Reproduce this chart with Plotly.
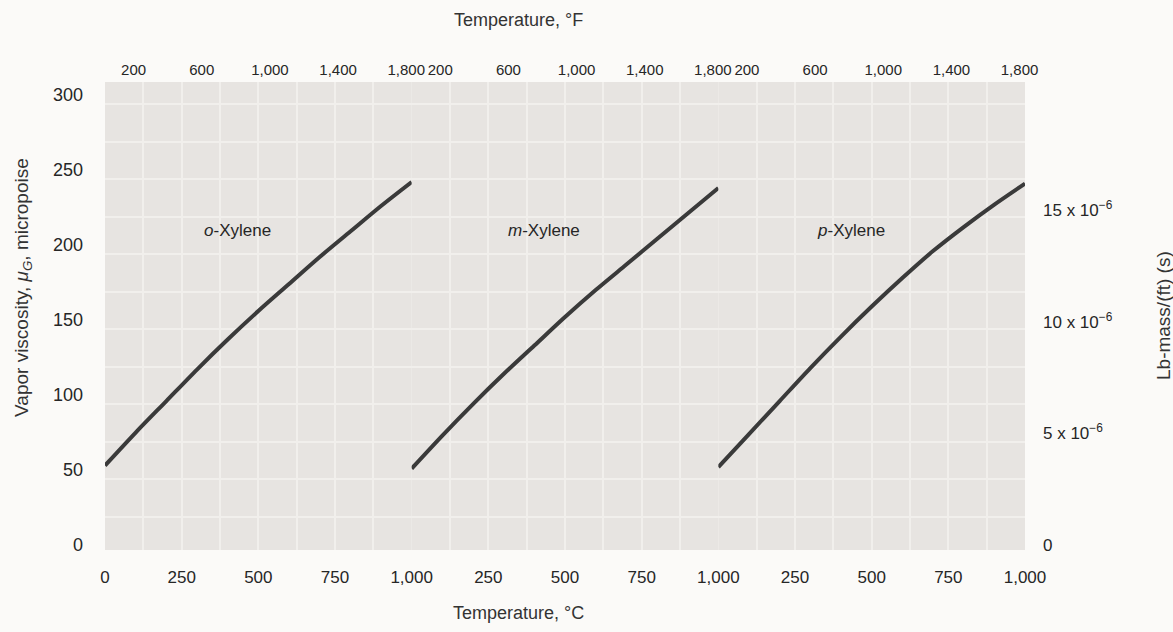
import plotly.graph_objects as go

# ---------------- data ----------------
temp_c = [0, 100, 200, 300, 400, 500, 600, 700, 800, 900, 1000]
o_xylene = [53, 75, 96, 117, 137, 156, 174, 192, 209, 226, 242]
m_xylene = [51, 73, 94, 114, 133, 152, 170, 187, 204, 221, 238]
p_xylene = [52, 74, 96, 118, 139, 159, 178, 196, 212, 227, 241]
names = ["<i>o</i>-Xylene", "<i>m</i>-Xylene", "<i>p</i>-Xylene"]
label_pos = (432, 210)

c_ticks = [0, 250, 500, 750, 1000]
f_ticks = [200, 600, 1000, 1400, 1800]
mu_ticks = [0, 50, 100, 150, 200, 250, 300]
lb_ticks = [0, 5e-6, 10e-6, 15e-6]
lb_text = ["0", "5 x 10<sup>−6</sup>", "10 x 10<sup>−6</sup>", "15 x 10<sup>−6</sup>"]

MU_TO_LB = 6.7197e-8  # micropoise -> lb-mass/(ft)(s)
y_range = [-3.3, 308.7]

series = [o_xylene, m_xylene, p_xylene]

FONT = "Liberation Sans, Arial, sans-serif"
TXT = "#262626"
PLOT_BG = "#e7e4e1"
GRID = "#f1efec"

fig = go.Figure()

for i, ys in enumerate(series):
    xa = "x" if i == 0 else f"x{i+1}"
    fig.add_trace(go.Scatter(x=temp_c, y=ys, mode="lines", xaxis=xa, yaxis="y",
                             line=dict(color="#3a3a3a", width=4, shape="spline", smoothing=0.8),
                             showlegend=False, hoverinfo="skip"))
    # invisible copy on Fahrenheit axis so the top axis is drawn
    fig.add_trace(go.Scatter(x=[t * 9 / 5 + 32 for t in temp_c], y=ys, mode="lines",
                             xaxis=f"x{i+4}", yaxis="y",
                             line=dict(color="rgba(0,0,0,0)", width=0),
                             showlegend=False, hoverinfo="skip"))
    fig.add_annotation(x=label_pos[0], y=label_pos[1], xref=xa, yref="y",
                       text=names[i], showarrow=False,
                       font=dict(family=FONT, size=17, color=TXT))

# invisible trace for right axis
fig.add_trace(go.Scatter(x=[temp_c[0], temp_c[-1]], y=[v * MU_TO_LB for v in (o_xylene[0], o_xylene[-1])],
                         xaxis="x3", yaxis="y2", mode="lines",
                         line=dict(color="rgba(0,0,0,0)", width=0),
                         showlegend=False, hoverinfo="skip"))

layout = dict(
    width=1173, height=632,
    margin=dict(l=105, r=148, t=82, b=82),
    paper_bgcolor="#fbfaf8", plot_bgcolor=PLOT_BG,
    font=dict(family=FONT, size=16, color=TXT),
    showlegend=False,
)

doms = [[0, 1 / 3], [1 / 3, 2 / 3], [2 / 3, 1]]
for i in range(3):
    key = "xaxis" if i == 0 else f"xaxis{i+1}"
    vals = c_ticks if i == 0 else c_ticks[1:]
    layout[key] = dict(
        domain=doms[i], range=[0, 1000], anchor="y",
        tickvals=vals, ticktext=[f"{v:,}" for v in vals],
        ticks="", ticklabelstandoff=15, showline=False, zeroline=False,
        showgrid=True, gridcolor=GRID, gridwidth=1.5,
        tickfont=dict(family=FONT, size=17, color=TXT),
        minor=dict(dtick=125, tick0=0, showgrid=True, gridcolor=GRID, gridwidth=1.5),
    )
    layout[f"xaxis{i+4}"] = dict(
        domain=doms[i], range=[32, 1832], anchor="y", overlaying=("x" if i == 0 else f"x{i+1}"),
        side="top", tickvals=f_ticks, ticktext=[f"{v:,}" for v in f_ticks],
        ticks="", ticklabelstandoff=3, showgrid=False, zeroline=False, showline=False,
        tickfont=dict(family=FONT, size=15, color=TXT),
    )

layout["yaxis"] = dict(
    range=y_range, tickvals=mu_ticks, ticks="", ticklabelstandoff=21,
    showgrid=False, zeroline=False, showline=False,
    tickfont=dict(family=FONT, size=18, color=TXT),
    minor=dict(tick0=19, dtick=25, showgrid=True, gridcolor=GRID, gridwidth=1.5),
)
layout["yaxis2"] = dict(
    range=[y_range[0] * MU_TO_LB, y_range[1] * MU_TO_LB], overlaying="y", side="right",
    anchor="x3", tickvals=lb_ticks, ticktext=lb_text, ticks="", ticklabelstandoff=17,
    showgrid=False, zeroline=False, showline=False,
    tickfont=dict(family=FONT, size=17, color=TXT),
)

fig.update_layout(**layout)

title_font = dict(family=FONT, size=18, color="#333333")
fig.add_annotation(x=0.449, y=1, xref="paper", yref="paper", xanchor="center", yanchor="middle",
                   yshift=62, text="Temperature, °F", showarrow=False, font=title_font)
fig.add_annotation(x=0.449, y=0, xref="paper", yref="paper", xanchor="center", yanchor="middle",
                   yshift=-63, text="Temperature, °C", showarrow=False, font=title_font)
fig.add_annotation(x=0, y=0.56, xref="paper", yref="paper", xanchor="center", yanchor="middle",
                   xshift=-82, text="Vapor viscosity, <i>μ<sub>G</sub></i>, micropoise",
                   textangle=-90, showarrow=False, font=dict(family=FONT, size=19, color="#333333"))
fig.add_annotation(x=1, y=0.50, xref="paper", yref="paper", xanchor="center", yanchor="middle",
                   xshift=138, text="Lb-mass/(ft) (s)", textangle=-90,
                   showarrow=False, font=dict(family=FONT, size=19, color="#333333"))

fig.write_html("out.html")
